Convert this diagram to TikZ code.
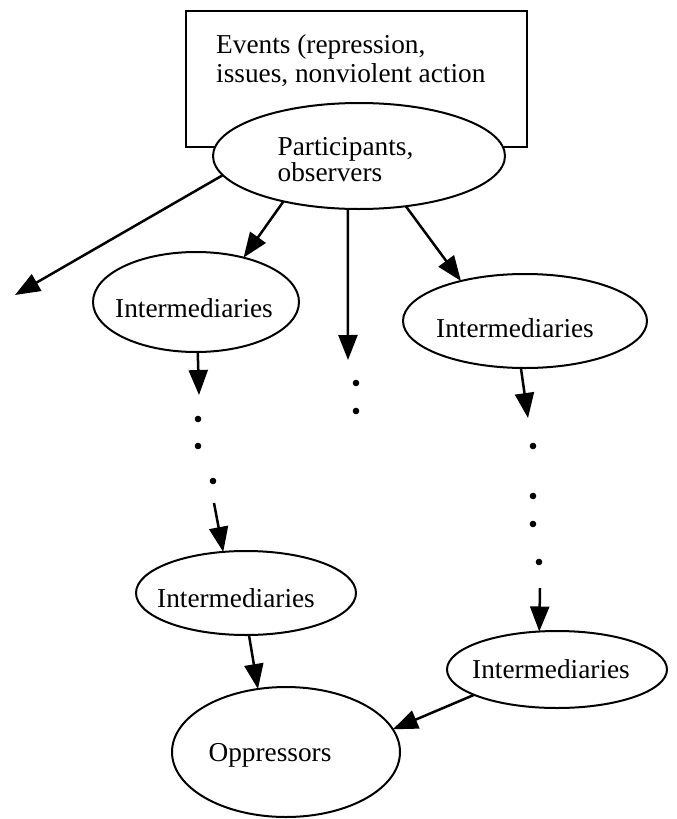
\documentclass[tikz,border=0pt]{standalone}
\usepackage{fontspec}
\setmainfont{Liberation Serif}
\usetikzlibrary{arrows.meta,shapes.geometric}

\begin{document}
\begin{tikzpicture}[
  x=1pt, y=-1pt,
  every node/.style={font=\fontsize{27.3}{29}\selectfont},
  events/.style={rectangle, draw, line width=2.5pt, outer sep=0pt, minimum width=341pt, minimum height=136pt},
  actor/.style={ellipse, draw, line width=2pt, fill=white, inner sep=0pt, outer sep=0pt},
  say/.style={inner sep=0pt, align=left},
  arrow/.style={-{Triangle[length=25pt,width=19pt]}, line width=2.5pt}
]
\useasboundingbox (0,0) rectangle (677,819);

\node[events, label={[say, anchor=north west, xshift=30pt, yshift=-23pt]north west:{Events (repression,\\issues, nonviolent action}}] (events) at (356.5,79) {};
\node[actor, minimum width=292pt, minimum height=106pt, label={[say, xshift=-13.5pt, yshift=-3.7pt, font=\fontsize{27.3}{24}\selectfont]center:{Participants,\\observers}}] (crowd) at (359,156) {};

\node[actor, minimum width=206pt, minimum height=100pt, label={[say, xshift=-2pt, yshift=-5.7pt]center:Intermediaries}] (interA) at (196,302) {};
\node[actor, minimum width=244pt, minimum height=94pt, label={[say, xshift=-10pt, yshift=-6.7pt]center:Intermediaries}] (interB) at (525,321) {};
\node[actor, minimum width=220pt, minimum height=84pt, label={[say, xshift=-10pt, yshift=-4.7pt]center:Intermediaries}] (interC) at (246,593) {};
\node[actor, minimum width=220pt, minimum height=77pt, label={[say, xshift=-6pt, yshift=0.8pt]center:Intermediaries}] (interD) at (557,669.5) {};
\node[actor, minimum width=228pt, minimum height=130pt, label={[say, xshift=-16pt, yshift=-3.7pt]center:Oppressors}] (opp) at (286,752) {};

% loose ends of the chains
\coordinate (lost) at (15,295);
\coordinate (midend) at (348,360);
\coordinate (chainA) at (199,395);
\coordinate (chainAres) at (214,503);
\coordinate (chainB) at (528,418);
\coordinate (chainBres) at (540,588);

% Arrows
\draw[arrow] (crowd.188) -- (lost);
\draw[arrow] (crowd.211) -- (interA.43);
\draw[arrow] (crowd.258) -- (midend);
\draw[arrow] (crowd.313) -- (interB.148);

\draw[arrow] (interA.272) -- (chainA);
\draw[arrow] (chainAres) -- (interC.119);
\draw[arrow] (interC.274) -- (opp.114);

\draw[arrow] (interB.265) -- (chainB);
\draw[arrow] (chainBres) -- (interD.115);
\draw[arrow] (interD.197) -- (opp.12);

% dots
\foreach \x/\y in {198/419, 198/446, 213/481, 356/383, 356/411, 533/446, 533/496, 533/524, 539/562}
  \fill (\x,\y) circle (3.3pt);

\end{tikzpicture}
\end{document}
